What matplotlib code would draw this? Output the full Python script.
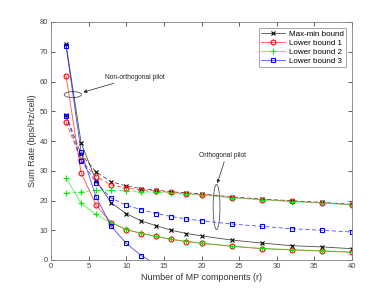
import numpy as np
import matplotlib
matplotlib.use("Agg")
import matplotlib.pyplot as plt
from matplotlib.patches import Ellipse

nan = np.nan
r = [2, 4, 6, 8, 10, 12, 14, 16, 18, 20, 24, 28, 32, 36, 40]

maxmin_non = [72.5, 39.4, 26.6, 19.2, 15.6, 13.1, 11.5, 10.0, 8.9, 8.1, 6.7, 5.7, 4.8, 4.4, 3.8]
maxmin_orth = [48.6, 35.6, 29.6, 26.3, 24.9, 24.0, 23.5, 22.9, 22.6, 22.2, 21.2, 20.5, 19.9, 19.4, 18.7]
lb1_non = [62.0, 29.3, 18.4, 12.6, 10.2, 8.9, 7.9, 6.9, 6.2, 5.6, 4.6, 3.8, 3.4, 3.0, 2.6]
lb1_orth = [46.4, 33.5, 28.0, 25.2, 24.2, 23.6, 23.2, 22.7, 22.3, 22.0, 21.0, 20.3, 19.7, 19.2, 18.6]
lb2_non = [27.6, 19.0, 15.3, 12.5, 10.3, 9.0, 8.0, 7.0, 6.3, 5.7, 4.7, 3.9, 3.5, 3.1, 2.7]
lb2_orth = [22.5, 22.9, 23.5, 23.4, 23.3, 23.0, 22.8, 22.5, 22.2, 21.8, 20.9, 20.2, 19.6, 19.1, 18.5]
lb3_non = [72.0, 36.3, 21.2, 11.3, 5.6, 1.5, -1.5, nan, nan, nan, nan, nan, nan, nan, nan]
lb3_orth = [48.5, 33.4, 26.0, 20.8, 18.4, 16.9, 15.6, 14.6, 13.8, 13.2, 12.1, 11.3, 10.5, 10.0, 9.4]

labels = ["Max-min bound", "Lower bound 1", "Lower bound 2", "Lower bound 3"]
xticks = [0, 5, 10, 15, 20, 25, 30, 35, 40]
yticks = [0, 10, 20, 30, 40, 50, 60, 70, 80]

plt.rcParams['font.family'] = ['Liberation Sans', 'DejaVu Sans']

fig = plt.figure(figsize=(3.89, 2.92), dpi=100)
ax = fig.add_axes([51/389, 1-260/292, 301/389, 238/292])

styles = [
    ("k", "x", 3.0),
    ("#ff0000", "o", 3.5),
    ("#00ee00", "+", 4.0),
    ("#0000ff", "s", 2.8),
]
lw = 0.6
series = [(maxmin_non, maxmin_orth), (lb1_non, lb1_orth), (lb2_non, lb2_orth), (lb3_non, lb3_orth)]
handles = []
for (non, orth), (c, m, ms), lab in zip(series, styles, labels):
    l1, = ax.plot(r, non, color=c, lw=lw, alpha=0.7)
    m1, = ax.plot(r, non, color=c, marker=m, ms=ms, ls='none', mew=0.8, mfc='none')
    ax.plot(r, orth, color=c, lw=lw, ls=(0, (5, 3)), alpha=0.7)
    ax.plot(r, orth, color=c, marker=m, ms=ms, ls='none', mew=0.8, mfc='none')
    handles.append((l1, m1))

ax.set_xlim(0, 40)
ax.set_ylim(0, 80)
ax.set_xticks(xticks)
ax.set_yticks(yticks)
ax.tick_params(direction='in', length=3, width=0.6, colors='#444444', labelsize=5.5,
               top=True, right=True, pad=2)
for s in ax.spines.values():
    s.set_color('#808080')
    s.set_linewidth(0.6)

ax.set_xlabel("Number of MP components (r)", fontsize=6.5, color='#333333', labelpad=2)
ax.set_ylabel("Sum Rate (bps/Hz/cell)", fontsize=6.5, color='#333333', labelpad=2)

leg = ax.legend(handles=handles, labels=labels, loc='upper right', bbox_to_anchor=(0.98, 0.975),
                borderaxespad=0, fontsize=5.8, frameon=True, fancybox=False,
                handlelength=3.0, handletextpad=0.4, labelspacing=0.15,
                borderpad=0.3)
leg.get_frame().set_edgecolor('#808080')
leg.get_frame().set_linewidth(0.6)

# annotations
ax.add_patch(Ellipse((2.9, 55.6), 2.3, 2.0, fill=False, ec='#555555', lw=0.6))
ax.annotate("Non-orthogonal pilot", xy=(4.3, 56.4), xytext=(7.2, 61.5),
            fontsize=4.8, color='#222222', va='center',
            arrowprops=dict(arrowstyle='-|>', color='#222222', lw=0.5,
                            mutation_scale=5, shrinkA=0, shrinkB=0))
ax.add_patch(Ellipse((22.0, 17.8), 0.9, 15.2, fill=False, ec='#555555', lw=0.6))
ax.annotate("Orthogonal pilot", xy=(22.1, 25.8), xytext=(19.7, 35.1),
            fontsize=4.8, color='#222222', va='center',
            arrowprops=dict(arrowstyle='-|>', color='#222222', lw=0.5,
                            mutation_scale=5, shrinkA=0, shrinkB=0,
                            relpos=(0.55, 0.0)))

fig.savefig("out.png", dpi=100)
